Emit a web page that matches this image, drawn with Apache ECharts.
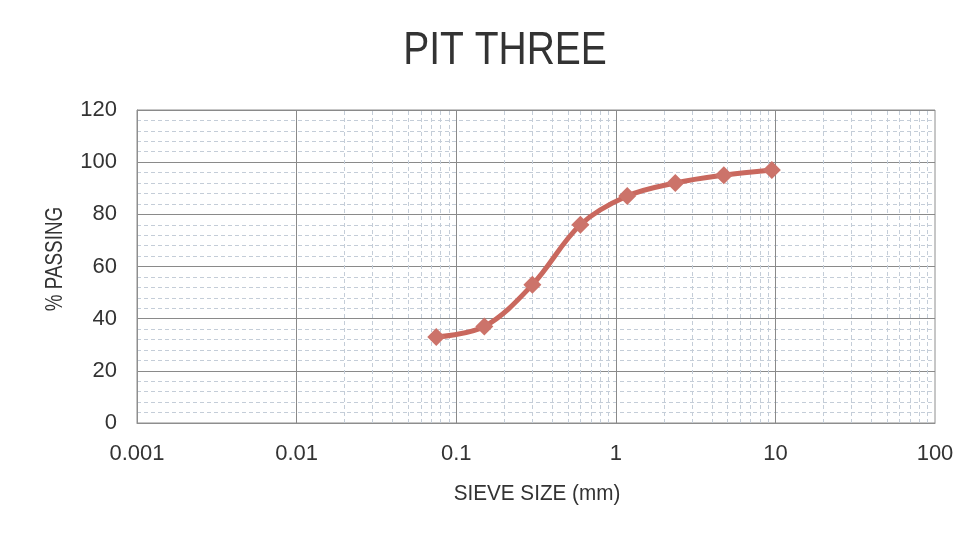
<!DOCTYPE html>
<html>
<head>
<meta charset="utf-8">
<script src="https://cdn.jsdelivr.net/npm/echarts@6/dist/echarts.min.js"></script>
<style>
  html, body { margin: 0; padding: 0; background: #ffffff; }
  #chart { width: 970px; height: 537px; }
</style>
</head>
<body>
<div id="chart"></div>
<script>
// Sieve analysis results
const sieveSizes = [0.075, 0.15, 0.3, 0.6, 1.18, 2.36, 4.75, 9.5];
const percentPassing = [33, 37, 53, 76, 87, 92, 95, 97];
const xTickLabels = ['0.001', '0.01', '0.1', '1', '10', '100'];
const yTickLabels = ['0', '20', '40', '60', '80', '100', '120'];
const decadeLines = [0.01, 0.1, 1, 10];

// Log-paper minor lines at 2..9 within each decade
const minorX = [];
for (let d = -3; d < 2; d++) {
  for (let m = 2; m <= 9; m++) minorX.push(m * Math.pow(10, d));
}

const FONT = '"Liberation Sans", Arial, sans-serif';
const TEXT = '#333333';
const MAJOR = '#8a8a8a';
const MINOR = '#c4cdd8';

const chart = echarts.init(document.getElementById('chart'), null, { renderer: 'canvas' });

chart.setOption({
  backgroundColor: '#ffffff',
  animation: false,
  graphic: [
    {
      type: 'text', x: 505, y: 51, scaleX: 0.83, silent: true,
      style: { text: 'PIT THREE', fill: TEXT, font: 'normal 47px ' + FONT, align: 'center', verticalAlign: 'middle' }
    },
    {
      type: 'text', x: 537, y: 494, scaleX: 0.94, silent: true,
      style: { text: 'SIEVE SIZE (mm)', fill: TEXT, font: 'normal 22px ' + FONT, align: 'center', verticalAlign: 'middle' }
    },
    {
      type: 'text', x: 56, y: 259, rotation: Math.PI / 2, scaleX: 0.82, silent: true,
      style: { text: '% PASSING', fill: TEXT, font: 'normal 23px ' + FONT, align: 'center', verticalAlign: 'middle' }
    }
  ],
  grid: {
    left: 137, right: 35, top: 110, bottom: 114,
    show: true, borderColor: '#8e8e8e', borderWidth: 1
  },
  xAxis: {
    type: 'log',
    logBase: 10,
    min: 0.001,
    max: 100,
    axisLine: { show: true, lineStyle: { color: '#8e8e8e', width: 1 } },
    axisTick: { show: false },
    axisLabel: {
      fontFamily: FONT, fontSize: 22, color: TEXT, margin: 20,
      formatter: function (v) {
        const k = Math.round(Math.log10(v)) + 3;
        return xTickLabels[k] !== undefined ? xTickLabels[k] : '';
      }
    },
    splitLine: { show: false }
  },
  yAxis: {
    type: 'value',
    min: 0,
    max: 120,
    interval: 20,
    axisLine: { show: true, lineStyle: { color: '#8e8e8e', width: 1 } },
    axisTick: { show: false },
    axisLabel: {
      fontFamily: FONT, fontSize: 22, color: TEXT, margin: 20,
      formatter: function (v) {
        const k = Math.round(v / 20);
        return yTickLabels[k] !== undefined ? yTickLabels[k] : '';
      }
    },
    splitLine: { show: true, lineStyle: { color: MAJOR, width: 1 } },
    minorTick: { show: false, splitNumber: 5 },
    minorSplitLine: { show: true, lineStyle: { color: MINOR, width: 1, type: [4, 3] } }
  },
  series: [
    {
      // vertical minor grid of the log paper
      type: 'line',
      data: [],
      silent: true,
      z: 1,
      markLine: {
        silent: true,
        symbol: 'none',
        label: { show: false },
        animation: false,
        lineStyle: { color: MINOR, width: 1, type: [4, 3] },
        emphasis: { disabled: true },
        data: minorX.map(function (v) { return { xAxis: v }; })
      }
    },
    {
      // vertical decade lines
      type: 'line',
      data: [],
      silent: true,
      z: 2,
      markLine: {
        silent: true,
        symbol: 'none',
        label: { show: false },
        animation: false,
        lineStyle: { color: MAJOR, width: 1, type: 'solid' },
        emphasis: { disabled: true },
        data: decadeLines.map(function (v) { return { xAxis: v }; })
      }
    },
    {
      name: 'Pit Three',
      type: 'line',
      z: 5,
      data: sieveSizes.map(function (s, i) { return [s, percentPassing[i]]; }),
      smooth: 0.35,
      symbol: 'diamond',
      symbolSize: 18,
      lineStyle: { color: '#c9685e', width: 5 },
      itemStyle: { color: '#cc736a', borderWidth: 0 }
    }
  ]
});
</script>
</body>
</html>
